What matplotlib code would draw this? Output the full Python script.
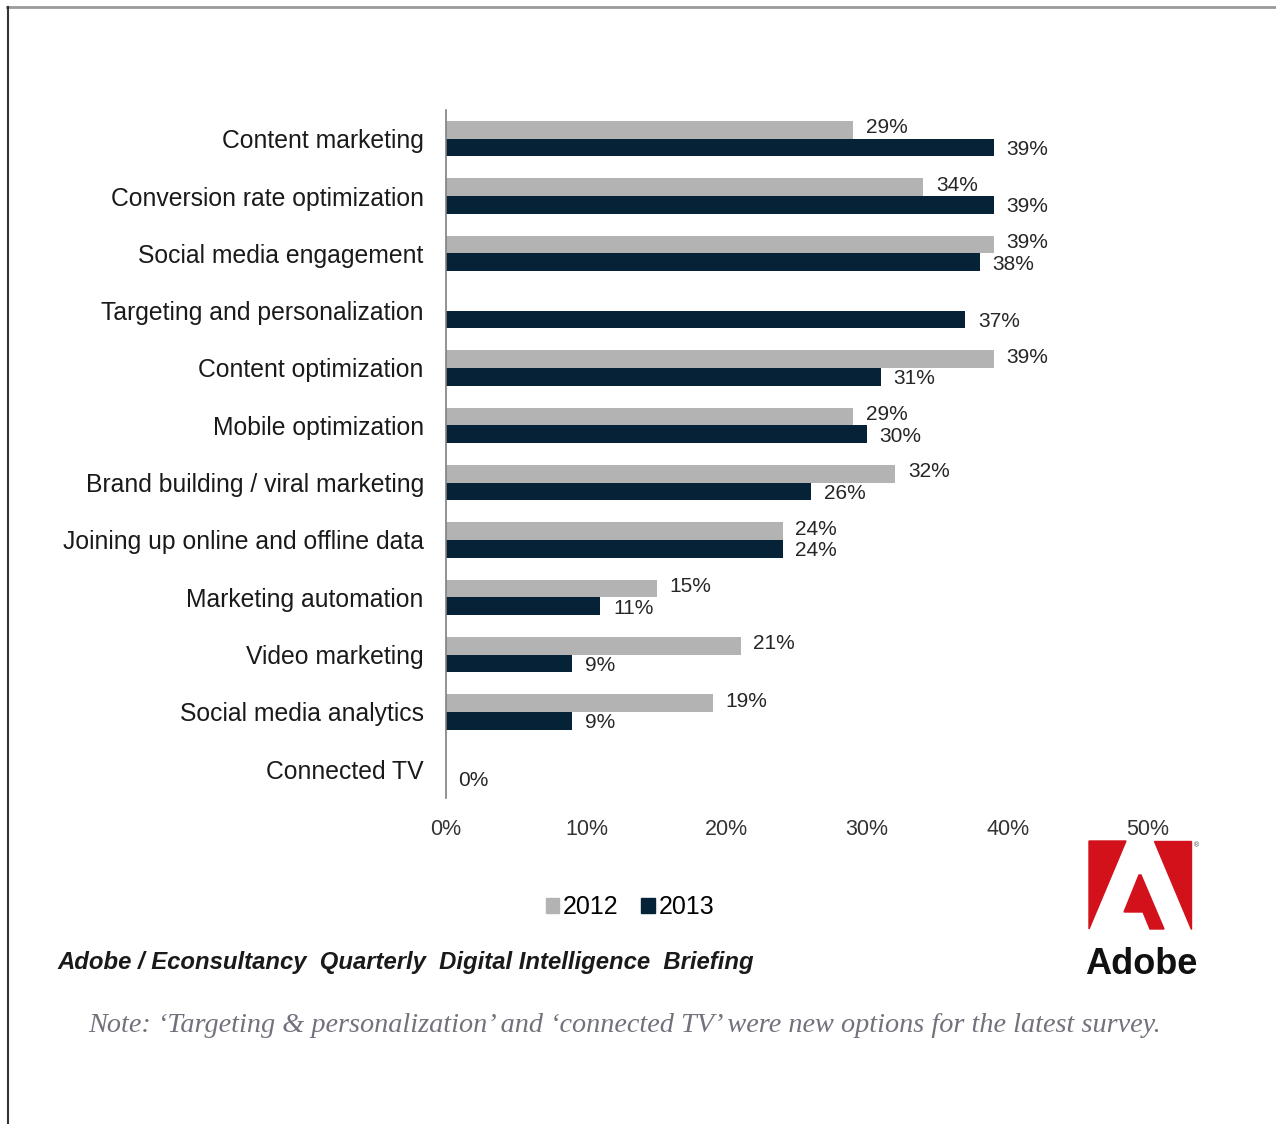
import numpy as np
import matplotlib.pyplot as plt
from matplotlib.patches import Polygon, Patch
from matplotlib.lines import Line2D
from matplotlib.transforms import Affine2D

# data (percent of respondents)
categories = [
    "Content marketing",
    "Conversion rate optimization",
    "Social media engagement",
    "Targeting and personalization",
    "Content optimization",
    "Mobile optimization",
    "Brand building / viral marketing",
    "Joining up online and offline data",
    "Marketing automation",
    "Video marketing",
    "Social media analytics",
    "Connected TV",
]
vals_2012 = [29, 34, 39, None, 39, 29, 32, 24, 15, 21, 19, None]
vals_2013 = [39, 39, 38, 37, 31, 30, 26, 24, 11, 9, 9, 0]
series_names = ["2012", "2013"]
xticks = [0, 10, 20, 30, 40, 50]

c12 = "#b3b3b3"
c13 = "#062236"
narrow = ["Liberation Sans Narrow", "Liberation Sans", "DejaVu Sans"]
sans = ["Liberation Sans", "DejaVu Sans"]

W, H = 1276, 1124
fig = plt.figure(figsize=(W / 100, H / 100), dpi=100)
# helper: image pixel coords (y down) -> figure
px = Affine2D().scale(1 / W, -1 / H).translate(0, 1) + fig.transFigure

ax = fig.add_axes([446 / W, 1 - 798 / H, (1148 - 446) / W, (798 - 110) / H])
pos = np.arange(len(categories))
bh = 0.31
v12 = [np.nan if v is None else v for v in vals_2012]
ax.barh(pos - bh / 2, v12, height=bh, color=c12)
ax.barh(pos + bh / 2, vals_2013, height=bh, color=c13)

# value labels; nudged apart a little so the close pairs don't collide
for i, v in enumerate(vals_2012):
    if v is not None:
        ax.annotate(f"{v}%", (v, i - bh / 2), xytext=(9, 1.5), textcoords="offset points",
                    va="center", ha="left", fontsize=15, color="#262626", family=sans)
for i, v in enumerate(vals_2013):
    ax.annotate(f"{v}%", (v, i + bh / 2), xytext=(9, -1.5), textcoords="offset points",
                va="center", ha="left", fontsize=15, color="#262626", family=sans)

ax.set_xlim(0, 50)
ax.set_ylim(len(categories) - 0.5, -0.5)
ax.set_yticks(pos)
ax.set_yticklabels(categories, fontsize=17.8, color="#1a1a1a", family=sans)
ax.set_xticks(xticks)
ax.set_xticklabels([f"{t}%" for t in xticks], fontsize=15.5, color="#333333", family=sans)
ax.tick_params(axis="y", length=0, pad=16)
ax.tick_params(axis="x", length=0, pad=15)
for s in ["top", "right", "bottom"]:
    ax.spines[s].set_visible(False)
ax.spines["left"].set_color("#808080")
ax.spines["left"].set_linewidth(1.2)

# legend
handles = [Patch(color=c12), Patch(color=c13)]
fig.legend(handles, series_names, loc="center", bbox_to_anchor=(630 / W, 1 - 907 / H),
           ncol=2, frameon=False, handlelength=0.55, handleheight=0.55, handletextpad=0.15,
           columnspacing=0.9, prop={"family": narrow, "size": 18})

# source + note
fig.text(57 / W, 1 - 962 / H, "Adobe / Econsultancy  Quarterly  Digital Intelligence  Briefing",
         ha="left", va="center", fontsize=17.2, weight="bold", style="italic",
         color="#1a1a1a", family=narrow)
fig.text(88 / W, 1 - 1026 / H,
         "Note: \u2018Targeting & personalization\u2019 and \u2018connected TV\u2019 were new options for the latest survey.",
         ha="left", va="center", fontsize=20.3, style="italic", color="#74707c",
         family=["Liberation Serif", "DejaVu Serif"])

# Adobe logo
red = "#d2111b"
for pts in [
    [(1089, 841), (1126, 841), (1089, 929)],
    [(1154, 841), (1191, 841), (1191, 929)],
    [(1139, 875), (1124, 912), (1143, 912), (1150, 929), (1164, 929), (1141, 875)],
]:
    fig.add_artist(Polygon(pts, closed=True, color=red, transform=px))
fig.text(1197 / W, 1 - 845 / H, "\u00ae", fontsize=5, ha="center", va="center", color="#555555")
fig.text(1141 / W, 1 - 964 / H, "Adobe", ha="center", va="center", fontsize=26,
         weight="bold", color="#111111", family=narrow)

# frame lines of the original picture
fig.add_artist(Line2D([7, 1276], [7, 7], color="#9a9a9a", lw=2, transform=px))
fig.add_artist(Line2D([8, 8], [7, 1124], color="#333333", lw=1.5, transform=px))

fig.savefig("out.png", dpi=100, facecolor="white")
